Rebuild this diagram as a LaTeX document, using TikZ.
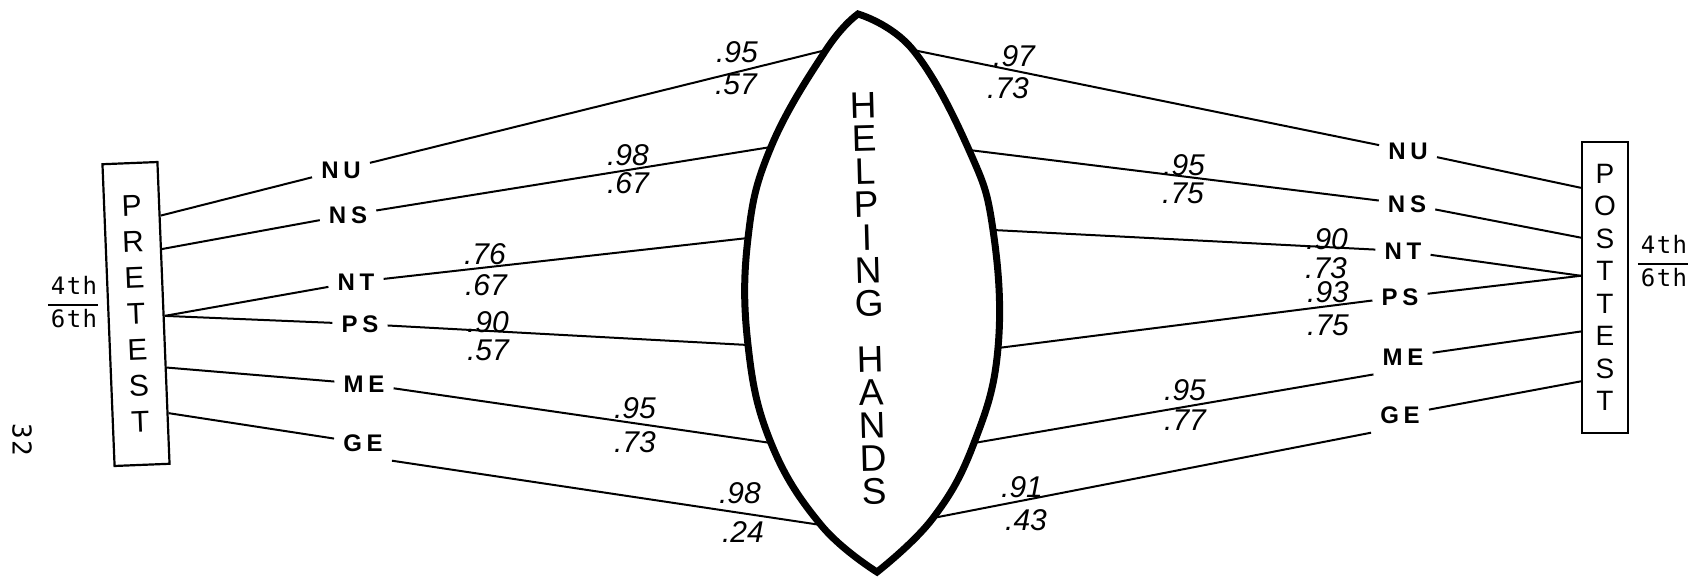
\documentclass[tikz,border=0pt]{standalone}
\usepackage{fontspec}
\newfontfamily\handfont{Liberation Sans}
\newfontfamily\tagfont[LetterSpace=20]{Liberation Sans}
\newfontfamily\gradefont[LetterSpace=6]{DejaVu Sans Mono}
\usetikzlibrary{calc}

\begin{document}
\begin{tikzpicture}[x=1pt, y=-1pt,
    link/.style={line width=2pt},
    testbox/.style={draw, line width=2.2pt, inner sep=0pt, align=center},
    scaletag/.style={font=\tagfont\bfseries\fontsize{24}{24}\selectfont, inner sep=9pt},
    corr/.style={font=\handfont\itshape\fontsize{30}{30}\selectfont, inner sep=0pt},
    grade/.style={font=\gradefont\fontsize{24}{31}\selectfont, inner sep=0pt}]
  \useasboundingbox (0,0) rectangle (1696,588);

  % Pretest box
  \node[testbox, rotate=2.3, minimum width=55, minimum height=302,
        font=\handfont\fontsize{30}{36}\selectfont] (pre) at (136,314) {P\\R\\E\\T\\E\\S\\T};
  \node[grade] (gradeL) at (73,305)
    {\setlength{\arrayrulewidth}{1.5pt}\begin{tabular}{@{\hspace{3pt}}c@{\hspace{1pt}}}4th\\\hline 6th\end{tabular}};
  \node[grade, font=\gradefont\fontsize{26}{26}\selectfont, rotate=-90] (page) at (22,440) {32};

  % Posttest box
  \node[testbox, minimum width=46, minimum height=291,
        font=\handfont\fontsize{28}{32.5}\selectfont] (post) at (1605,287.5) {P\\O\\S\\T\\T\\E\\S\\T};
  \node[grade] (gradeR) at (1663,264)
    {\setlength{\arrayrulewidth}{1.5pt}\begin{tabular}{@{\hspace{3pt}}c@{\hspace{1pt}}}4th\\\hline 6th\end{tabular}};

  % Scale tags
  \node[scaletag] (nuL) at (341,170) {NU};
  \node[scaletag] (nsL) at (348,215) {NS};
  \node[scaletag] (ntL) at (356,282) {NT};
  \node[scaletag] (psL) at (360,324) {PS};
  \node[scaletag] (meL) at (364,384) {ME};
  \node[scaletag] (geL) at (363,443) {GE};

  \node[scaletag] (nuR) at (1408,151) {NU};
  \node[scaletag] (nsR) at (1407,204) {NS};
  \node[scaletag] (ntR) at (1403,251) {NT};
  \node[scaletag] (psR) at (1400,297) {PS};
  \node[scaletag] (meR) at (1403,357) {ME};
  \node[scaletag] (geR) at (1400,415) {GE};

  % Lens points
  \coordinate (top) at (858,14);
  \coordinate (bot) at (877,572);
  \coordinate (l1) at (826,50);
  \coordinate (l2) at (771,147);
  \coordinate (l3) at (748,238);
  \coordinate (l4) at (748,345);
  \coordinate (l5) at (771,443);
  \coordinate (l6) at (821,525);
  \coordinate (r1) at (913,50);
  \coordinate (r2) at (969,150);
  \coordinate (r3) at (993,230);
  \coordinate (r4) at (998,348);
  \coordinate (r5) at (974,443);
  \coordinate (r6) at (933,518);

  % Pretest to tags to lens
  \draw[link] ($(pre.north east)!0.18!(pre.south east)$) -- (nuL);
  \draw[link] ($(pre.north east)!0.29!(pre.south east)$) -- (nsL);
  \draw[link] ($(pre.north east)!0.51!(pre.south east)$) -- (ntL);
  \draw[link] ($(pre.north east)!0.51!(pre.south east)$) -- (psL);
  \draw[link] ($(pre.north east)!0.68!(pre.south east)$) -- (meL);
  \draw[link] ($(pre.north east)!0.83!(pre.south east)$) -- (geL);
  \draw[link] (nuL) -- (l1);
  \draw[link] (nsL) -- (l2);
  \draw[link] (ntL) -- (l3);
  \draw[link] (psL) -- (l4);
  \draw[link] (meL) -- (l5);
  \draw[link] (geL.south east) -- (l6);

  % Lens to tags to posttest
  \draw[link] (r1) -- (nuR);
  \draw[link] (r2) -- (nsR);
  \draw[link] (r3) -- (ntR);
  \draw[link] (r4) -- (psR);
  \draw[link] (r5) -- (meR.south west);
  \draw[link] (r6) -- (geR.south west);
  \draw[link] (nuR) -- ($(post.north west)!0.16!(post.south west)$);
  \draw[link] (nsR) -- ($(post.north west)!0.33!(post.south west)$);
  \draw[link] (ntR) -- ($(post.north west)!0.46!(post.south west)$);
  \draw[link] (psR) -- ($(post.north west)!0.46!(post.south west)$);
  \draw[link] (meR) -- ($(post.north west)!0.65!(post.south west)$);
  \draw[link] (geR) -- ($(post.north west)!0.82!(post.south west)$);

  % Helping Hands lens
  \draw[line width=7pt, fill=white, line join=miter]
    plot[smooth, tension=0.7] coordinates {(top) (l1) (l2) (l3) (l4) (l5) (l6) (bot)}
    -- plot[smooth, tension=0.7] coordinates {(bot) (r6) (r5) (r4) (r3) (r2) (r1) (top)} -- cycle;
  \node[align=center, inner sep=0pt, rotate=1.5, font=\handfont\fontsize{37}{33}\selectfont] (hh) at (869,299)
    {H\\E\\L\\P\\I\\N\\G\\[23pt]H\\A\\N\\D\\S};

  % Pretest coefficients
  \node[corr] (c1a) at (737,52) {.95};
  \node[corr] (c1b) at (736,84) {.57};
  \node[corr] (c2a) at (628,155) {.98};
  \node[corr] (c2b) at (628,183) {.67};
  \node[corr] (c3a) at (485,254) {.76};
  \node[corr] (c3b) at (486,285) {.67};
  \node[corr] (c4a) at (488,322) {.90};
  \node[corr] (c4b) at (488,350) {.57};
  \node[corr] (c5a) at (635,408) {.95};
  \node[corr] (c5b) at (635,442) {.73};
  \node[corr] (c6a) at (740,493) {.98};
  \node[corr] (c6b) at (743,532) {.24};

  % Posttest coefficients
  \node[corr] (d1a) at (1014,56) {.97};
  \node[corr] (d1b) at (1008,88) {.73};
  \node[corr] (d2a) at (1184,165) {.95};
  \node[corr] (d2b) at (1183,193) {.75};
  \node[corr] (d3a) at (1327,239) {.90};
  \node[corr] (d3b) at (1326,268) {.73};
  \node[corr] (d4a) at (1328,292) {.93};
  \node[corr] (d4b) at (1328,325) {.75};
  \node[corr] (d5a) at (1185,390) {.95};
  \node[corr] (d5b) at (1185,420) {.77};
  \node[corr] (d6a) at (1022,487) {.91};
  \node[corr] (d6b) at (1026,520) {.43};
\end{tikzpicture}
\end{document}
